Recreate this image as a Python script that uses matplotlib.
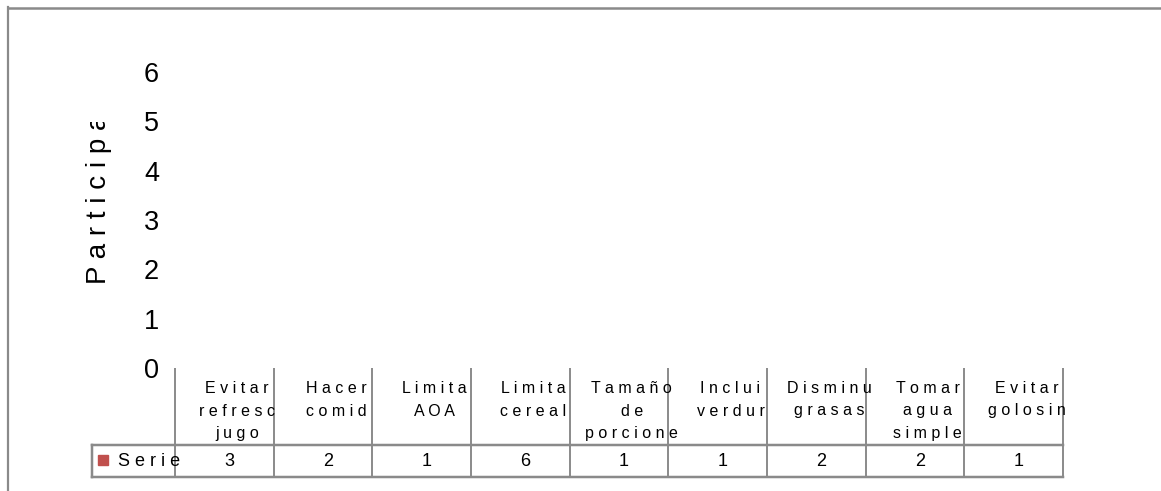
import matplotlib
matplotlib.use("Agg")
import matplotlib.pyplot as plt
from matplotlib.lines import Line2D
from matplotlib.patches import Rectangle
from matplotlib.transforms import blended_transform_factory, Bbox, TransformedBbox

# ---- data ----
categories = [
    ["Evitar", "refresc", "jugo"],
    ["Hacer", "comid"],
    ["Limita", "AOA"],
    ["Limita", "cereal"],
    ["Tamaño", "de", "porcione"],
    ["Inclui", "verdur"],
    ["Disminu", "grasas"],
    ["Tomar", "agua", "simple"],
    ["Evitar", "golosin"],
]
values = [3, 2, 1, 6, 1, 1, 2, 2, 1]
series_name = "Serie"
y_ticks = [0, 1, 2, 3, 4, 5, 6]
y_label = "Participa"

# ---- layout ----
W, H = 1161, 491
plt.rcParams['font.family'] = ['Liberation Sans', 'DejaVu Sans']
fig = plt.figure(figsize=(W / 100, H / 100), dpi=100)
fig.patch.set_facecolor("white")

def fy(py):
    return 1 - py / H

def fx(px):
    return px / W

ax_left, ax_right, ax_top, ax_bot = 175, 1063, 72, 368
ax = fig.add_axes([fx(ax_left), fy(ax_bot), fx(ax_right - ax_left), (ax_bot - ax_top) / H])
n = len(values)
ax.set_xlim(0, n)
ax.set_ylim(0, max(y_ticks))
ax.set_yticks(y_ticks)
ax.set_yticklabels([str(t) for t in y_ticks], fontsize=19.5)
ax.tick_params(axis='y', length=0, pad=11.5)
ax.set_xticks([])
for s in ax.spines.values():
    s.set_visible(False)
ax.patch.set_alpha(0)

def spaced(s):
    return " ".join(s)

gray = "#8a8a8a"
lw = 1.4
bt = blended_transform_factory(ax.transData, fig.transFigure)

table_top, table_bot = 445, 477
# vertical category separators
for i in range(n + 1):
    fig.add_artist(Line2D([i, i], [fy(ax_bot), fy(table_bot)], transform=bt,
                          color=gray, lw=lw, solid_capstyle='butt'))
# table horizontal lines
for yy in (table_top, table_bot):
    fig.add_artist(Line2D([fx(92), fx(ax_right)], [fy(yy), fy(yy)],
                          transform=fig.transFigure, color=gray, lw=lw + 0.4))
fig.add_artist(Line2D([fx(92), fx(92)], [fy(table_top), fy(table_bot)],
                      transform=fig.transFigure, color=gray, lw=lw + 0.4))

# category labels
baselines = [393, 415.5, 438]
for i, lines in enumerate(categories):
    for j, line in enumerate(lines):
        fig.text(i + 0.63, fy(baselines[j]), spaced(line), transform=bt,
                 ha='center', va='baseline', fontsize=11.5, color='black')

# table values
for i, v in enumerate(values):
    fig.text(i + 0.55, fy(466), str(v), transform=bt, ha='center',
             va='baseline', fontsize=13, color='black')

# legend key
fig.add_artist(Rectangle((fx(98), fy(465)), fx(10), 10 / H,
                         transform=fig.transFigure, color="#C0504D"))
fig.text(fx(118), fy(466), spaced(series_name), ha='left', va='baseline',
         fontsize=13, color='black')

# y label (clipped at top as in reference)
t = fig.text(fx(106), fy(284), spaced(y_label), rotation=90,
             rotation_mode='anchor', ha='left', va='baseline',
             fontsize=20, color='black')
t.set_clip_box(TransformedBbox(Bbox.from_extents(0, 0, 0.3, fy(122)), fig.transFigure))
t.set_clip_on(True)

# outer chart border
fig.add_artist(Line2D([fx(8), fx(8)], [fy(7), 0], transform=fig.transFigure,
                      color=gray, lw=1.6))
fig.add_artist(Line2D([fx(8), 1], [fy(8), fy(8)], transform=fig.transFigure,
                      color=gray, lw=1.8))

fig.savefig("out.png", dpi=100)
